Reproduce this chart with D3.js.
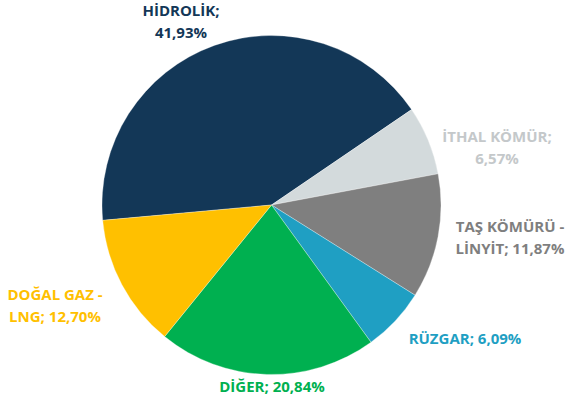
<!DOCTYPE html>
<html><head><meta charset="utf-8">
<script src="https://cdn.jsdelivr.net/npm/d3@7"></script>
<style>body{margin:0;background:#fff}svg{display:block}</style>
</head><body>
<svg id="c" width="570" height="401"></svg>
<script>
const categories = ["HİDROLİK","İTHAL KÖMÜR","TAŞ KÖMÜRÜ - LİNYİT","RÜZGAR","DİĞER","DOĞAL GAZ - LNG"];
const values = [41.93, 6.57, 11.87, 6.09, 20.84, 12.70];
const labelLines = [["HİDROLİK;","41,93%"],["İTHAL KÖMÜR;","6,57%"],["TAŞ KÖMÜRÜ -","LİNYİT; 11,87%"],["RÜZGAR; 6,09%"],["DİĞER; 20,84%"],["DOĞAL GAZ -","LNG; 12,70%"]];
const colors = ["#133757","#D3DADC","#7F7F7F","#1F9FC3","#00B050","#FFC000"];
const textColors = ["#133757","#C4C8CA","#7F7F7F","#1F9FC3","#00B050","#FFC000"];
const labelPos = [[181,15.5],[497,142],[510,232],[465,344],[272,392],[55,300]];

const svg = d3.select("#c");
const cx = 271.5, cy = 205, r = 169.5;
const startDeg = -95.2;
const pie = d3.pie().sort(null).value(d=>d)
  .startAngle(startDeg*Math.PI/180).endAngle((startDeg+360)*Math.PI/180);
const arc = d3.arc().innerRadius(0).outerRadius(r);
const g = svg.append("g").attr("transform",`translate(${cx},${cy})`);
g.selectAll("path").data(pie(values)).join("path")
  .attr("d",arc).attr("fill",(d,i)=>colors[i])
  .attr("stroke","#fff").attr("stroke-width",0.5).attr("stroke-opacity",0.6);

const lab = svg.append("g").attr("font-family","'Open Sans', sans-serif")
  .attr("font-weight","bold").attr("font-size","15px").attr("text-anchor","middle");
labelLines.forEach((lines,i)=>{
  const t = lab.append("text").attr("fill",textColors[i]);
  lines.forEach((s,j)=>{
    t.append("tspan").attr("x",labelPos[i][0]).attr("y",labelPos[i][1]+j*22).text(s);
  });
});
</script>
</body></html>
